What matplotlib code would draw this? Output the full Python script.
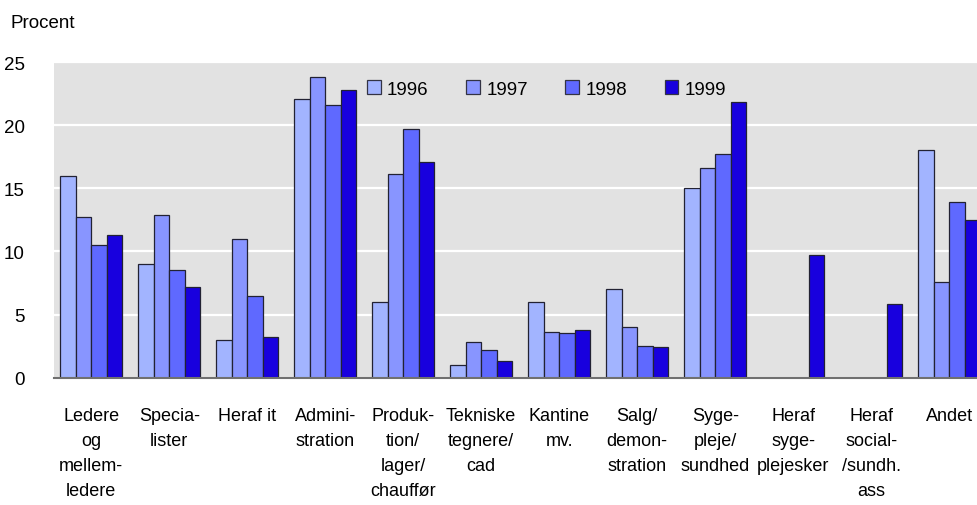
import numpy as np
import matplotlib
matplotlib.use("Agg")
import matplotlib.pyplot as plt
from matplotlib.patches import Patch

plt.rcParams['font.family'] = ['Liberation Sans', 'DejaVu Sans']
FS = 13

categories = ["Ledere\nog\nmellem-\nledere", "Specia-\nlister", "Heraf it", "Admini-\nstration",
              "Produk-\ntion/\nlager/\nchauffør", "Tekniske\ntegnere/\ncad", "Kantine\nmv.",
              "Salg/\ndemon-\nstration", "Syge-\npleje/\nsundhed", "Heraf\nsyge-\nplejesker",
              "Heraf\nsocial-\n/sundh.\nass", "Andet"]
years = ["1996", "1997", "1998", "1999"]
v1996 = [16.0, 9.0, 3.0, 22.05, 6.0, 1.0, 6.0, 7.0, 15.0, np.nan, np.nan, 18.0]
v1997 = [12.7, 12.9, 11.0, 23.85, 16.1, 2.8, 3.6, 4.05, 16.6, np.nan, np.nan, 7.6]
v1998 = [10.5, 8.5, 6.45, 21.6, 19.7, 2.2, 3.55, 2.5, 17.75, np.nan, np.nan, 13.95]
v1999 = [11.3, 7.15, 3.2, 22.8, 17.1, 1.35, 3.75, 2.4, 21.8, 9.7, 5.8, 12.5]
yticks = [0, 5, 10, 15, 20, 25]

colors = ["#a2b4ff", "#8895ff", "#5f69ff", "#1800de"]
series = [v1996, v1997, v1998, v1999]

W, H = 977, 506
fig = plt.figure(figsize=(W / 100, H / 100), dpi=100)
ax = fig.add_axes([54 / W, 1 - 378.7 / H, (W - 54) / W, (378.7 - 63) / H])
ax.set_facecolor("#e2e2e2")

x = np.arange(len(categories))
bw = 0.2
for i, (vals, c) in enumerate(zip(series, colors)):
    ax.bar(x + (i - 1.5) * bw, vals, width=bw, color=c, edgecolor="#222233",
           linewidth=0.9, zorder=3)

ax.set_ylim(0, 25)
ax.set_xlim(-0.477, 11.356)
ax.set_yticks(yticks)
ax.set_yticklabels([str(t) for t in yticks])
ax.yaxis.grid(True, color="white", linewidth=1.6, zorder=1)
ax.set_axisbelow(True)
ax.set_xticks(x)
ax.set_xticklabels(categories, fontsize=FS, linespacing=1.62, ha="center",
                   multialignment="center")
ax.tick_params(axis="x", length=0, pad=21)
ax.tick_params(axis="y", length=0, pad=21, labelsize=FS + 0.5)
for s in ["top", "right", "left"]:
    ax.spines[s].set_visible(False)
ax.spines["bottom"].set_color("#707070")
ax.spines["bottom"].set_linewidth(1.5)
ax.spines["bottom"].set_zorder(4)

fig.text(10 / W, 1 - 23 / H, "Procent", fontsize=FS + 0.5, va="center", ha="left")

handles = [Patch(facecolor=c, edgecolor="#333344", linewidth=0.9) for c in colors]
leg = fig.legend(handles, years, loc="center left",
                 bbox_to_anchor=(367 / W, 1 - 90 / H), ncol=4, frameon=False,
                 fontsize=FS + 0.5, handlelength=0.72, handleheight=0.72,
                 handletextpad=0.35, columnspacing=2.0, borderpad=0,
                 borderaxespad=0)

fig.savefig("out.png", dpi=100)
